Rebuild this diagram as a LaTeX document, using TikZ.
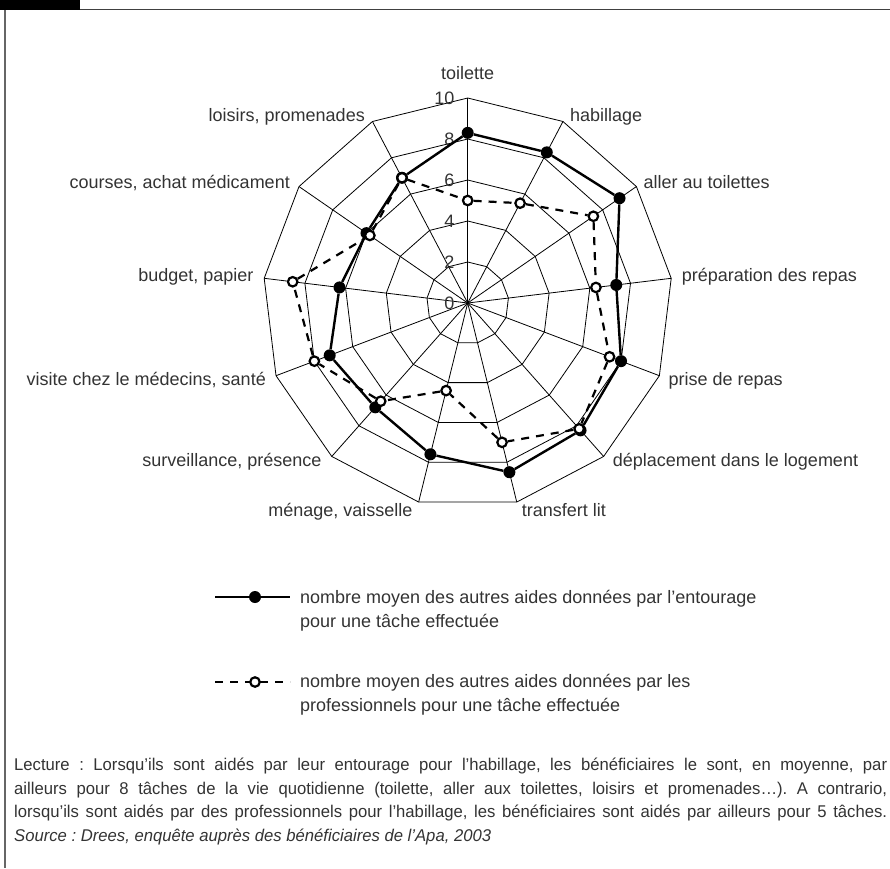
\documentclass[tikz,border=0pt]{standalone}
\usepackage{fontspec}
\setmainfont{Liberation Sans}
\newfontfamily\notefont{Liberation Sans}[FakeStretch=0.98]
\definecolor{inkgray}{gray}{0.2}
\frenchspacing

\tikzset{
  grid line/.style={black, line width=0.8pt},
  axis label/.style={inner sep=0pt, text=inkgray, font=\fontsize{18}{22}\selectfont},
  tick label/.style={inner sep=0pt, anchor=east, text=inkgray, font=\fontsize{18}{22}\selectfont},
  entourage/.style={black, line width=2.4pt},
  pro/.style={black, line width=2.2pt, dash pattern=on 8pt off 7pt},
  full dot/.style={circle, fill=black, inner sep=0pt, minimum size=12pt},
  open dot/.style={circle, draw=black, fill=white, line width=2.2pt, inner sep=0pt, minimum size=9.5pt},
  legend text/.style={inner sep=0pt, anchor=north west, align=left, text=inkgray, font=\fontsize{18}{24.5}\selectfont},
}

\begin{document}
\begin{tikzpicture}[x=1pt, y=1pt]
  \useasboundingbox (0,0) rectangle (890,-868);

  % frame
  \fill[black] (0,0) rectangle (80,-10);
  \draw[black!75, line width=1.8pt] (80,-9.5) -- (890,-9.5);
  \draw[black!60, line width=2pt] (5.3,-10) -- (5.3,-868);

  % radar chart
  \begin{scope}[shift={(467.7,-303)}, x=20.5pt, y=20.5pt]
    \coordinate (c) at (0,0);
    \foreach \k in {0,...,12}
      \coordinate (v\k) at ({90-\k*360/13}:10);
    \foreach \r in {2,4,...,10}
      \draw[grid line] (90:\r) \foreach \k in {1,...,12} { -- ({90-\k*360/13}:\r) } -- cycle;
    \foreach \k in {0,...,12}
      \draw[grid line] (c) -- (v\k);
    \foreach \r in {0,2,...,10}
      \node[tick label, xshift=-13pt] (t\r) at (0,\r) {\r};

    % entourage
    \foreach \v [count=\k from 0] in {8.3,8.3,9.0,7.3,8.0,8.3,8.5,7.6,6.8,7.2,6.3,6.0,6.9}
      \node[full dot] (e\k) at ({90-\k*360/13}:\v) {};
    \draw[entourage] (e0) -- (e1) -- (e2) -- (e3) -- (e4) -- (e5) -- (e6)
      -- (e7) -- (e8) -- (e9) -- (e10) -- (e11) -- (e12) -- (e0);

    % professionnels
    \foreach \v [count=\k from 0] in {5.0,5.5,7.45,6.3,7.4,8.2,7.0,4.4,6.4,8.0,8.6,5.8,6.9}
      \node[open dot] (p\k) at ({90-\k*360/13}:\v) {};
    \draw[pro] (p0) -- (p1) -- (p2) -- (p3) -- (p4) -- (p5) -- (p6)
      -- (p7) -- (p8) -- (p9) -- (p10) -- (p11) -- (p12) -- (p0);
  \end{scope}

  % axis labels
  \node[axis label, anchor=base] (lab0) at (467.7,-79) {toilette};
  \node[axis label, anchor=base west] (lab1) at (570,-121.5) {habillage};
  \node[axis label, anchor=base west] (lab2) at (643.4,-188.5) {aller au toilettes};
  \node[axis label, anchor=base west] (lab3) at (681.7,-281.7) {préparation des repas};
  \node[axis label, anchor=base west] (lab4) at (668.4,-385) {prise de repas};
  \node[axis label, anchor=base west] (lab5) at (612.7,-466.5) {déplacement dans le logement};
  \node[axis label, anchor=base west] (lab6) at (521.7,-516) {transfert lit};
  \node[axis label, anchor=base east] (lab7) at (412.7,-516) {ménage, vaisselle};
  \node[axis label, anchor=base east] (lab8) at (321.7,-466.5) {surveillance, présence};
  \node[axis label, anchor=base east] (lab9) at (266,-385) {visite chez le médecins, santé};
  \node[axis label, anchor=base east] (lab10) at (253.7,-281.7) {budget, papier};
  \node[axis label, anchor=base east] (lab11) at (290,-188.5) {courses, achat médicament};
  \node[axis label, anchor=base east] (lab12) at (365,-121.5) {loisirs, promenades};

  % legend
  \coordinate (la1) at (215,-597);
  \coordinate (lb1) at (290,-597);
  \draw[entourage] (la1) -- (lb1);
  \node[full dot] (ld1) at (255,-597) {};
  \node[legend text] (lt1) at (300,-585.9)
    {\strut nombre moyen des autres aides données par l'entourage\\pour une tâche effectuée};

  \coordinate (la2) at (215,-682);
  \coordinate (lb2) at (290,-682);
  \draw[pro] (la2) -- (lb2);
  \node[open dot] (ld2) at (255,-682) {};
  \node[legend text] (lt2) at (300,-669.9)
    {\strut nombre moyen des autres aides données par les\\professionnels pour une tâche effectuée};

  % note
  \node[inner sep=0pt, anchor=north west, text width=873pt, align=justify, text=inkgray,
        font=\notefont\fontsize{17}{23.5}\selectfont] (note) at (14,-754.25)
    {\parfillskip=0pt\strut Lecture : Lorsqu’ils sont aidés par leur entourage pour l’habillage, les bénéficiaires le sont, en moyenne, par\linebreak
     ailleurs pour 8 tâches de la vie quotidienne (toilette, aller aux toilettes, loisirs et promenades…). A contrario,\linebreak
     lorsqu’ils sont aidés par des professionnels pour l’habillage, les bénéficiaires sont aidés par ailleurs pour 5 tâches.\par
     \parfillskip=0pt plus 1fil\itshape Source : Drees, enquête auprès des bénéficiaires de l’Apa, 2003};
\end{tikzpicture}
\end{document}
